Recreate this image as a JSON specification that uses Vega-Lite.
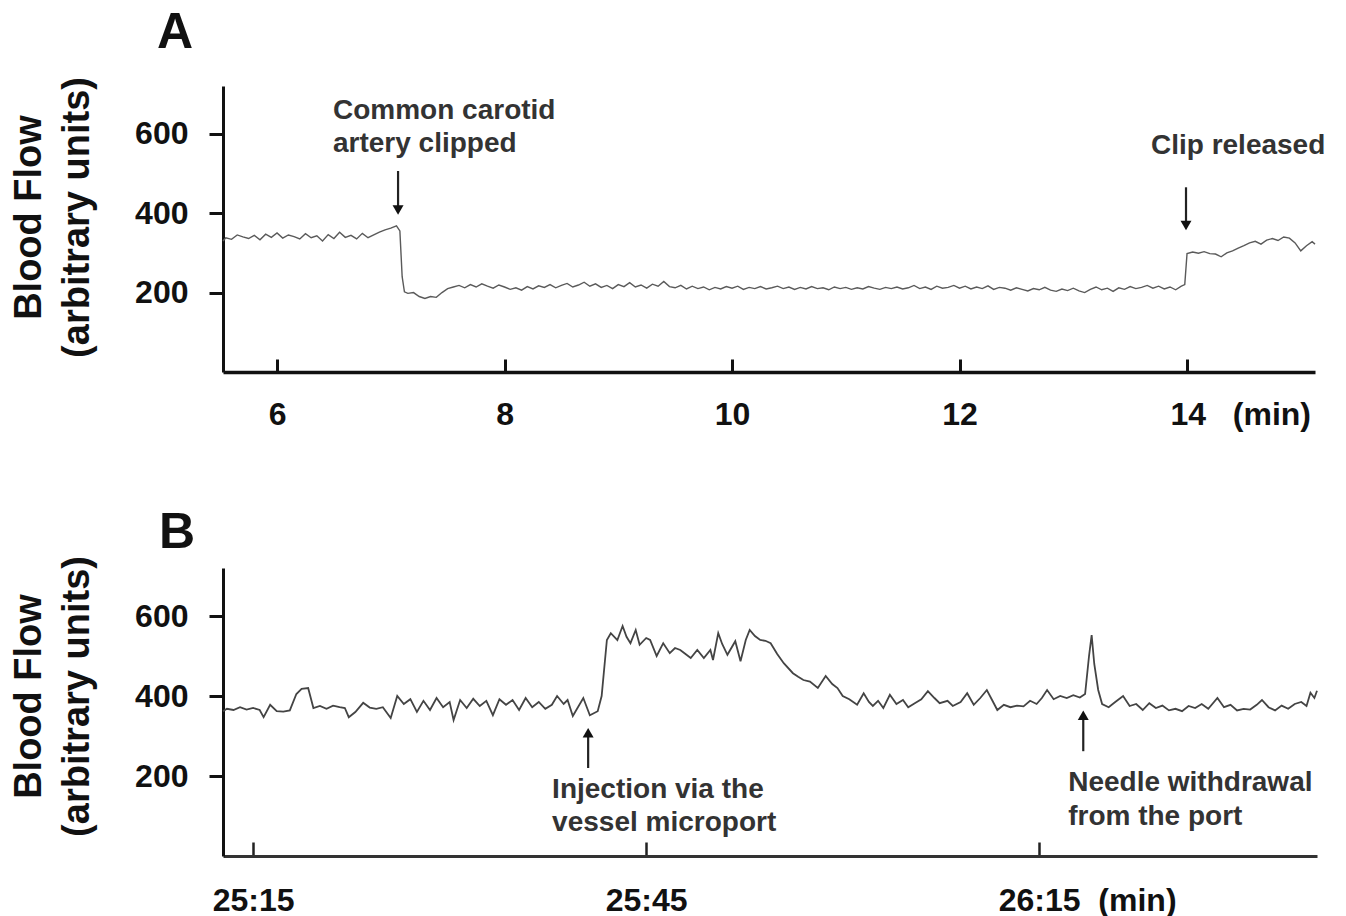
{
  "$schema": "https://vega.github.io/schema/vega-lite/v6.json",
  "background": "white",
  "padding": {"left": 10, "top": 7, "right": 5, "bottom": 0},
  "spacing": 77,
  "config": {
    "view": {"stroke": null},
    "font": "Liberation Sans",
    "axis": {"grid": false, "labelFont": "Liberation Sans", "titleFont": "Liberation Sans", "labelOverlap": false, "labelFlush": false, "labelBound": false}
  },
  "datasets": {
    "traceA": [
      {"t":5.525,"v":330},{"t":5.55,"v":338},{"t":5.6,"v":334},{"t":5.65,"v":345},{"t":5.7,"v":340},{"t":5.75,"v":336},{"t":5.8,"v":344},{"t":5.85,"v":333},{"t":5.9,"v":347},{"t":5.95,"v":339},
      {"t":6.0,"v":350},{"t":6.05,"v":337},{"t":6.1,"v":345},{"t":6.15,"v":341},{"t":6.2,"v":335},{"t":6.25,"v":348},{"t":6.3,"v":338},{"t":6.35,"v":343},{"t":6.4,"v":330},{"t":6.45,"v":346},
      {"t":6.5,"v":336},{"t":6.55,"v":352},{"t":6.6,"v":339},{"t":6.65,"v":344},{"t":6.7,"v":335},{"t":6.75,"v":349},{"t":6.8,"v":338},{"t":6.85,"v":345},{"t":6.9,"v":352},{"t":6.95,"v":358},
      {"t":7.0,"v":362},{"t":7.05,"v":368},{"t":7.08,"v":355},{"t":7.1,"v":240},{"t":7.12,"v":202},{"t":7.15,"v":198},{"t":7.2,"v":200},{"t":7.25,"v":190},{"t":7.3,"v":185},{"t":7.35,"v":190},
      {"t":7.4,"v":188},{"t":7.45,"v":200},{"t":7.5,"v":210},{"t":7.55,"v":214},{"t":7.6,"v":218},{"t":7.65,"v":212},{"t":7.7,"v":220},{"t":7.75,"v":214},{"t":7.8,"v":222},{"t":7.85,"v":216},
      {"t":7.9,"v":211},{"t":7.95,"v":219},{"t":8.0,"v":214},{"t":8.05,"v":208},{"t":8.1,"v":212},{"t":8.15,"v":206},{"t":8.2,"v":215},{"t":8.25,"v":209},{"t":8.3,"v":217},{"t":8.35,"v":213},
      {"t":8.4,"v":220},{"t":8.45,"v":212},{"t":8.5,"v":218},{"t":8.55,"v":223},{"t":8.6,"v":214},{"t":8.65,"v":219},{"t":8.7,"v":226},{"t":8.75,"v":216},{"t":8.8,"v":222},{"t":8.85,"v":213},
      {"t":8.9,"v":218},{"t":8.95,"v":210},{"t":9.0,"v":220},{"t":9.05,"v":215},{"t":9.1,"v":225},{"t":9.15,"v":214},{"t":9.2,"v":219},{"t":9.25,"v":211},{"t":9.3,"v":221},{"t":9.35,"v":216},
      {"t":9.4,"v":228},{"t":9.45,"v":215},{"t":9.5,"v":212},{"t":9.55,"v":218},{"t":9.6,"v":209},{"t":9.65,"v":216},{"t":9.7,"v":210},{"t":9.75,"v":214},{"t":9.8,"v":207},{"t":9.85,"v":213},
      {"t":9.9,"v":209},{"t":9.95,"v":215},{"t":10.0,"v":211},{"t":10.05,"v":216},{"t":10.1,"v":208},{"t":10.15,"v":213},{"t":10.2,"v":210},{"t":10.25,"v":215},{"t":10.3,"v":209},{"t":10.35,"v":212},
      {"t":10.4,"v":216},{"t":10.45,"v":210},{"t":10.5,"v":214},{"t":10.55,"v":208},{"t":10.6,"v":213},{"t":10.65,"v":209},{"t":10.7,"v":215},{"t":10.75,"v":210},{"t":10.8,"v":212},{"t":10.85,"v":207},
      {"t":10.9,"v":214},{"t":10.95,"v":210},{"t":11.0,"v":213},{"t":11.05,"v":208},{"t":11.1,"v":212},{"t":11.15,"v":209},{"t":11.2,"v":215},{"t":11.25,"v":211},{"t":11.3,"v":208},{"t":11.35,"v":213},
      {"t":11.4,"v":210},{"t":11.45,"v":214},{"t":11.5,"v":209},{"t":11.55,"v":212},{"t":11.6,"v":218},{"t":11.65,"v":210},{"t":11.7,"v":214},{"t":11.75,"v":208},{"t":11.8,"v":216},{"t":11.85,"v":211},
      {"t":11.9,"v":213},{"t":11.95,"v":218},{"t":12.0,"v":211},{"t":12.05,"v":216},{"t":12.1,"v":209},{"t":12.15,"v":214},{"t":12.2,"v":210},{"t":12.25,"v":217},{"t":12.3,"v":208},{"t":12.35,"v":213},
      {"t":12.4,"v":211},{"t":12.45,"v":206},{"t":12.5,"v":212},{"t":12.55,"v":208},{"t":12.6,"v":204},{"t":12.65,"v":210},{"t":12.7,"v":207},{"t":12.75,"v":213},{"t":12.8,"v":206},{"t":12.85,"v":203},
      {"t":12.9,"v":209},{"t":12.95,"v":205},{"t":13.0,"v":211},{"t":13.05,"v":204},{"t":13.1,"v":200},{"t":13.15,"v":208},{"t":13.2,"v":214},{"t":13.25,"v":207},{"t":13.3,"v":211},{"t":13.35,"v":203},
      {"t":13.4,"v":212},{"t":13.45,"v":208},{"t":13.5,"v":215},{"t":13.55,"v":210},{"t":13.6,"v":213},{"t":13.65,"v":218},{"t":13.7,"v":211},{"t":13.75,"v":216},{"t":13.8,"v":209},{"t":13.85,"v":214},
      {"t":13.9,"v":207},{"t":13.95,"v":216},{"t":13.98,"v":220},{"t":14.0,"v":298},{"t":14.05,"v":302},{"t":14.1,"v":299},{"t":14.15,"v":303},{"t":14.2,"v":298},{"t":14.25,"v":297},{"t":14.3,"v":290},
      {"t":14.35,"v":300},{"t":14.4,"v":305},{"t":14.45,"v":312},{"t":14.5,"v":318},{"t":14.55,"v":325},{"t":14.6,"v":329},{"t":14.65,"v":322},{"t":14.7,"v":332},{"t":14.75,"v":336},{"t":14.8,"v":331},
      {"t":14.85,"v":340},{"t":14.9,"v":337},{"t":14.95,"v":325},{"t":15.0,"v":305},{"t":15.05,"v":318},{"t":15.1,"v":328},{"t":15.125,"v":322}
    ],
    "arrowsA": [{"t":7.064,"v":506,"v2":418},{"t":13.991,"v":465,"v2":378}],
    "headsA": [{"t":7.064,"v":408},{"t":13.991,"v":369}],
    "textA": [
      {"t":6.492,"v":636,"label":"Common carotid"},
      {"t":6.492,"v":555,"label":"artery clipped"},
      {"t":13.683,"v":548,"label":"Clip released"}
    ],
    "traceB": [
      {"t":1512.7,"v":362},{"t":1513.0,"v":368},{"t":1513.5,"v":365},{"t":1514.0,"v":372},{"t":1514.5,"v":366},{"t":1515.0,"v":370},{"t":1515.5,"v":365},{"t":1515.8,"v":347},{"t":1516.3,"v":378},{"t":1516.8,"v":362},
      {"t":1517.3,"v":361},{"t":1517.8,"v":364},{"t":1518.3,"v":405},{"t":1518.7,"v":418},{"t":1519.2,"v":420},{"t":1519.6,"v":370},{"t":1520.1,"v":375},{"t":1520.6,"v":368},{"t":1521.1,"v":376},{"t":1521.6,"v":372},
      {"t":1522.0,"v":370},{"t":1522.3,"v":347},{"t":1522.8,"v":360},{"t":1523.4,"v":383},{"t":1523.9,"v":371},{"t":1524.4,"v":368},{"t":1524.9,"v":372},{"t":1525.5,"v":345},{"t":1526.0,"v":400},{"t":1526.5,"v":380},
      {"t":1527.0,"v":392},{"t":1527.5,"v":360},{"t":1528.0,"v":388},{"t":1528.5,"v":365},{"t":1529.0,"v":395},{"t":1529.5,"v":372},{"t":1530.0,"v":385},{"t":1530.3,"v":340},{"t":1530.8,"v":390},{"t":1531.3,"v":370},
      {"t":1531.8,"v":393},{"t":1532.3,"v":375},{"t":1532.8,"v":388},{"t":1533.3,"v":352},{"t":1533.8,"v":392},{"t":1534.3,"v":378},{"t":1534.8,"v":390},{"t":1535.3,"v":365},{"t":1535.8,"v":395},{"t":1536.3,"v":372},
      {"t":1536.8,"v":385},{"t":1537.3,"v":368},{"t":1537.8,"v":378},{"t":1538.2,"v":400},{"t":1538.7,"v":380},{"t":1539.0,"v":390},{"t":1539.4,"v":350},{"t":1540.2,"v":395},{"t":1540.7,"v":352},{"t":1541.3,"v":362},
      {"t":1541.6,"v":400},{"t":1541.8,"v":470},{"t":1542.0,"v":540},{"t":1542.3,"v":557},{"t":1542.8,"v":540},{"t":1543.2,"v":575},{"t":1543.5,"v":548},{"t":1543.8,"v":532},{"t":1544.2,"v":565},{"t":1544.5,"v":528},
      {"t":1545.0,"v":545},{"t":1545.3,"v":540},{"t":1545.8,"v":500},{"t":1546.3,"v":532},{"t":1546.8,"v":507},{"t":1547.2,"v":520},{"t":1547.6,"v":515},{"t":1548.0,"v":505},{"t":1548.4,"v":495},{"t":1548.9,"v":515},
      {"t":1549.4,"v":495},{"t":1549.9,"v":515},{"t":1550.1,"v":490},{"t":1550.5,"v":557},{"t":1550.8,"v":530},{"t":1551.2,"v":503},{"t":1551.8,"v":537},{"t":1552.2,"v":487},{"t":1552.6,"v":540},{"t":1552.9,"v":565},
      {"t":1553.3,"v":550},{"t":1553.7,"v":540},{"t":1554.1,"v":538},{"t":1554.5,"v":532},{"t":1555.0,"v":505},{"t":1555.5,"v":482},{"t":1556.2,"v":457},{"t":1556.6,"v":448},{"t":1557.0,"v":440},{"t":1557.5,"v":436},
      {"t":1558.1,"v":420},{"t":1558.7,"v":450},{"t":1559.2,"v":430},{"t":1559.6,"v":420},{"t":1560.0,"v":400},{"t":1560.5,"v":392},{"t":1561.1,"v":378},{"t":1561.6,"v":407},{"t":1562.0,"v":385},{"t":1562.3,"v":375},
      {"t":1562.7,"v":388},{"t":1563.1,"v":370},{"t":1563.6,"v":403},{"t":1564.1,"v":380},{"t":1564.6,"v":390},{"t":1565.0,"v":372},{"t":1565.5,"v":382},{"t":1566.0,"v":392},{"t":1566.5,"v":412},{"t":1567.0,"v":395},
      {"t":1567.4,"v":382},{"t":1568.0,"v":388},{"t":1568.4,"v":375},{"t":1569.0,"v":385},{"t":1569.5,"v":407},{"t":1570.0,"v":378},{"t":1570.5,"v":395},{"t":1571.0,"v":415},{"t":1571.4,"v":390},{"t":1571.8,"v":365},
      {"t":1572.3,"v":378},{"t":1572.8,"v":372},{"t":1573.3,"v":376},{"t":1573.8,"v":374},{"t":1574.3,"v":388},{"t":1574.8,"v":380},{"t":1575.2,"v":395},{"t":1575.6,"v":415},{"t":1576.1,"v":392},{"t":1576.6,"v":400},
      {"t":1577.1,"v":395},{"t":1577.6,"v":402},{"t":1578.1,"v":396},{"t":1578.5,"v":405},{"t":1578.8,"v":500},{"t":1579.0,"v":552},{"t":1579.2,"v":480},{"t":1579.5,"v":415},{"t":1579.8,"v":380},{"t":1580.3,"v":372},
      {"t":1580.8,"v":385},{"t":1581.4,"v":400},{"t":1581.9,"v":375},{"t":1582.4,"v":380},{"t":1582.9,"v":365},{"t":1583.4,"v":382},{"t":1583.9,"v":370},{"t":1584.4,"v":376},{"t":1584.9,"v":364},{"t":1585.4,"v":368},
      {"t":1585.9,"v":362},{"t":1586.4,"v":375},{"t":1586.9,"v":370},{"t":1587.4,"v":380},{"t":1587.9,"v":368},{"t":1588.6,"v":395},{"t":1589.1,"v":372},{"t":1589.6,"v":378},{"t":1590.1,"v":364},{"t":1590.6,"v":368},
      {"t":1591.1,"v":366},{"t":1591.6,"v":378},{"t":1592.0,"v":390},{"t":1592.5,"v":372},{"t":1593.0,"v":364},{"t":1593.5,"v":376},{"t":1594.0,"v":368},{"t":1594.5,"v":380},{"t":1595.0,"v":385},{"t":1595.4,"v":375},
      {"t":1595.7,"v":408},{"t":1596.0,"v":395},{"t":1596.2,"v":413}
    ],
    "arrowsB": [{"t":1540.57,"v":220,"v2":300},{"t":1578.36,"v":262,"v2":345}],
    "headsB": [{"t":1540.57,"v":308},{"t":1578.36,"v":352}],
    "textB": [
      {"t":1537.82,"v":145,"label":"Injection via the"},
      {"t":1537.82,"v":62,"label":"vessel microport"},
      {"t":1577.21,"v":162,"label":"Needle withdrawal"},
      {"t":1577.21,"v":77,"label":"from the port"}
    ]
  },
  "vconcat": [
    {
      "width": 1092,
      "height": 286,
      "title": {"text": "A", "anchor": "start", "frame": "group", "fontSize": 50, "fontWeight": "bold", "color": "#111", "dx": -66, "offset": -21, "baseline": "alphabetic"},
      "encoding": {
        "x": {
          "field": "t", "type": "quantitative",
          "scale": {"domain": [5.525, 15.125], "nice": false, "zero": false},
          "axis": {
            "title": null, "values": [6, 8, 10, 12, 14],
            "labelExpr": "datum.value == 14 ? '14\u00a0\u00a0\u00a0(min)' : datum.label",
            "domainWidth": 3.5, "domainColor": "#111",
            "tickSize": -13, "tickWidth": 3, "tickColor": "#111",
            "labelFontSize": 32, "labelFontWeight": "bold", "labelColor": "#111", "labelPadding": 40,
            "labelAlign": {"condition": {"test": "datum.value == 14", "value": "left"}, "value": "center"},
            "labelOffset": {"condition": {"test": "datum.value == 14", "value": -17}, "value": 0}
          }
        },
        "y": {
          "field": "v", "type": "quantitative",
          "scale": {"domain": [0, 720], "nice": false},
          "axis": {
            "title": ["Blood Flow", "(arbitrary units)"], "titleFontSize": 38, "titleFontWeight": "bold", "titleColor": "#111", "titleLineHeight": 48, "titlePadding": 38, "titleY": 131,
            "values": [200, 400, 600],
            "domainWidth": 3, "domainColor": "#111",
            "tickSize": 14, "tickWidth": 3, "tickColor": "#111",
            "labelFontSize": 32, "labelFontWeight": "bold", "labelColor": "#111", "labelPadding": 21
          }
        }
      },
      "layer": [
        {"data": {"name": "traceA"}, "mark": {"type": "line", "color": "#5a5a5a", "strokeWidth": 1.4}},
        {"data": {"name": "arrowsA"}, "mark": {"type": "rule", "color": "#222", "strokeWidth": 2.2}, "encoding": {"y2": {"field": "v2"}}},
        {"data": {"name": "headsA"}, "mark": {"type": "point", "shape": "triangle-down", "filled": true, "size": 120, "color": "#111", "opacity": 1}},
        {"data": {"name": "textA"}, "mark": {"type": "text", "align": "left", "baseline": "alphabetic", "fontSize": 28, "fontWeight": "bold", "color": "#333"}, "encoding": {"text": {"field": "label"}}}
      ]
    },
    {
      "width": 1094,
      "height": 288,
      "title": {"text": "B", "anchor": "start", "frame": "group", "fontSize": 50, "fontWeight": "bold", "color": "#111", "dx": -64, "offset": -42, "baseline": "alphabetic"},
      "encoding": {
        "x": {
          "field": "t", "type": "quantitative",
          "scale": {"domain": [1512.7, 1596.2], "nice": false, "zero": false},
          "axis": {
            "title": null, "values": [1515, 1545, 1575],
            "labelExpr": "datum.value == 1575 ? '26:15\u00a0\u00a0(min)' : (floor(datum.value / 60) + ':' + (datum.value % 60 < 10 ? '0' : '') + (datum.value % 60))",
            "domainWidth": 3, "domainColor": "#333",
            "tickSize": -14, "tickWidth": 2.5, "tickColor": "#222",
            "labelFontSize": 32, "labelFontWeight": "bold", "labelColor": "#111", "labelPadding": 43,
            "labelAlign": {"condition": {"test": "datum.value == 1575", "value": "left"}, "value": "center"},
            "labelOffset": {"condition": {"test": "datum.value == 1575", "value": -41}, "value": 0}
          }
        },
        "y": {
          "field": "v", "type": "quantitative",
          "scale": {"domain": [0, 720], "nice": false},
          "axis": {
            "title": ["Blood Flow", "(arbitrary units)"], "titleFontSize": 38, "titleFontWeight": "bold", "titleColor": "#111", "titleLineHeight": 48, "titlePadding": 38, "titleY": 128,
            "values": [200, 400, 600],
            "domainWidth": 3, "domainColor": "#111",
            "tickSize": 14, "tickWidth": 3, "tickColor": "#111",
            "labelFontSize": 32, "labelFontWeight": "bold", "labelColor": "#111", "labelPadding": 21
          }
        }
      },
      "layer": [
        {"data": {"name": "traceB"}, "mark": {"type": "line", "color": "#444", "strokeWidth": 1.8}},
        {"data": {"name": "arrowsB"}, "mark": {"type": "rule", "color": "#222", "strokeWidth": 2.2}, "encoding": {"y2": {"field": "v2"}}},
        {"data": {"name": "headsB"}, "mark": {"type": "point", "shape": "triangle-up", "filled": true, "size": 120, "color": "#111", "opacity": 1}},
        {"data": {"name": "textB"}, "mark": {"type": "text", "align": "left", "baseline": "alphabetic", "fontSize": 28, "fontWeight": "bold", "color": "#333"}, "encoding": {"text": {"field": "label"}}}
      ]
    }
  ]
}
